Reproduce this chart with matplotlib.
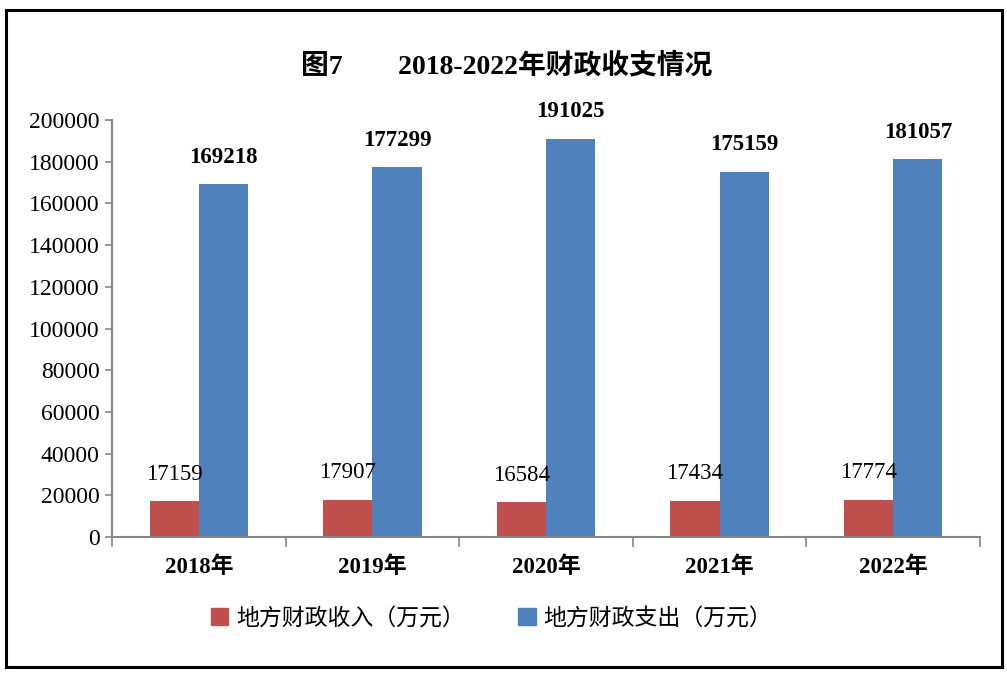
import matplotlib
matplotlib.use("Agg")
import matplotlib.pyplot as plt
from matplotlib.patches import Rectangle, Patch

years = ["2018年", "2019年", "2020年", "2021年", "2022年"]
income = [17159, 17907, 16584, 17434, 17774]
expense = [169218, 177299, 191025, 175159, 181057]
series_names = ["地方财政收入（万元）", "地方财政支出（万元）"]
title = "图7　　2018-2022年财政收支情况"

plt.rcParams['font.family'] = ['Liberation Serif', 'Noto Sans CJK SC']

RED = "#C0504D"
BLUE = "#4F81BD"
AXC = "#868686"

fig = plt.figure(figsize=(10.07, 6.76), dpi=100)
ax = fig.add_axes([0.1112, 0.2056, 0.862, 0.6169])

w = 0.283
x = list(range(len(years)))
b1 = ax.bar([i - w / 2 for i in x], income, width=w, color=RED, zorder=2)
b2 = ax.bar([i + w / 2 for i in x], expense, width=w, color=BLUE, zorder=2)

for rect, v in zip(b1, income):
    ax.annotate(f"{v}", (rect.get_x() + rect.get_width() / 2, v),
                xytext=(0, 12), textcoords="offset points", ha="center", va="bottom",
                fontsize=16.5, color="black")
for rect, v in zip(b2, expense):
    ax.annotate(f"{v}", (rect.get_x() + rect.get_width() / 2, v),
                xytext=(0, 12), textcoords="offset points", ha="center", va="bottom",
                fontsize=16.5, fontweight="bold", color="black")

ax.set_xlim(-0.5, len(years) - 0.5)
ax.set_ylim(0, 200000)
ax.set_yticks(range(0, 200001, 20000))
ax.tick_params(axis="y", labelsize=17, length=5, width=1.2, color=AXC, direction="out", pad=4)
ax.set_xticks(x)
ax.set_xticklabels(years, fontsize=16.5, fontweight="bold")
ax.tick_params(axis="x", which="major", length=0, pad=14)
ax.set_xticks([i - 0.5 for i in range(len(years) + 1)], minor=True)
ax.tick_params(axis="x", which="minor", length=7, width=1.2, color=AXC, direction="out")

for s in ["top", "right"]:
    ax.spines[s].set_visible(False)
for s in ["left", "bottom"]:
    ax.spines[s].set_color(AXC)
    ax.spines[s].set_linewidth(1.5)

fig.text(0.503, 0.903, title, ha="center", va="center", fontsize=20, fontweight="bold")

handles = [Patch(facecolor=RED, edgecolor=RED), Patch(facecolor=BLUE, edgecolor=BLUE)]
fig.legend(handles, series_names, loc="center", bbox_to_anchor=(0.488, 0.085), ncol=2,
           frameon=False, fontsize=16.5, handlelength=0.75, handleheight=0.75,
           handletextpad=0.35, columnspacing=2.35)

fig.patches.append(Rectangle((0.006, 0.013), 0.989, 0.972, transform=fig.transFigure,
                             fill=False, edgecolor="black", linewidth=2.2))

fig.savefig("out.png", dpi=100)
